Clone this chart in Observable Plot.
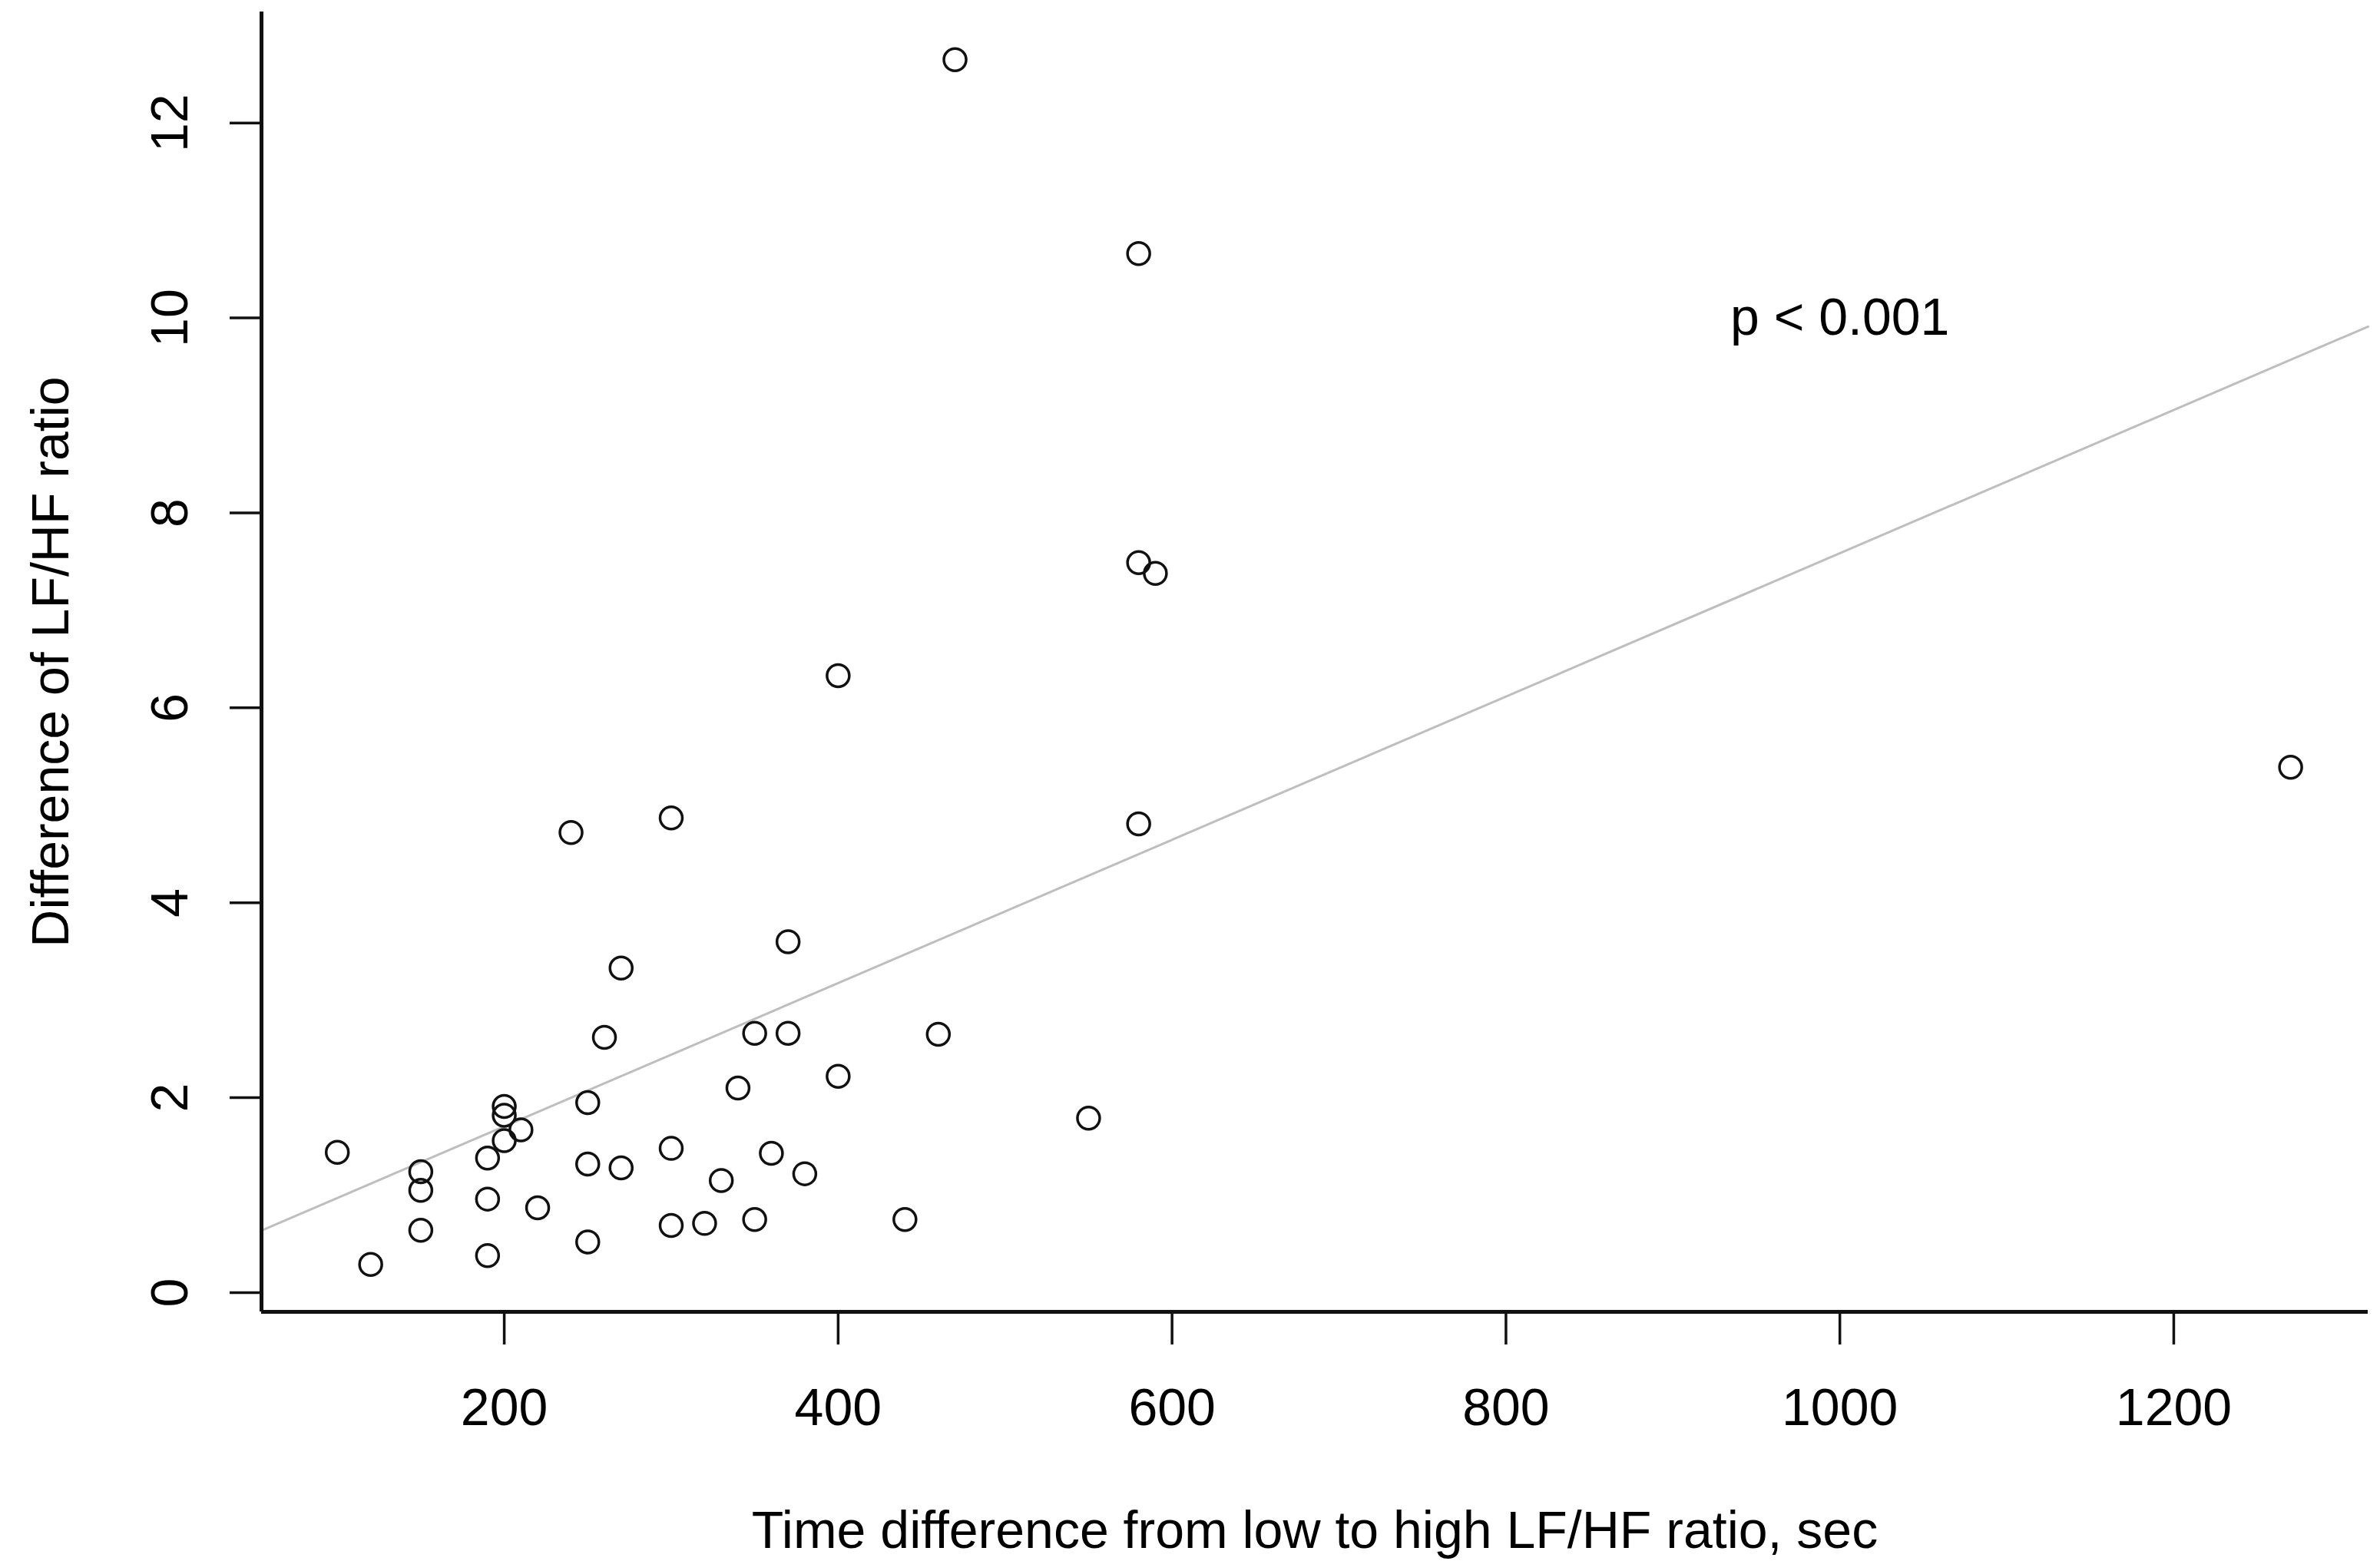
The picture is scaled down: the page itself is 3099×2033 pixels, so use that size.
<!DOCTYPE html>
<html>
<head>
<meta charset="utf-8">
<script src="https://cdn.jsdelivr.net/npm/d3@7"></script>
<script src="https://cdn.jsdelivr.net/npm/@observablehq/plot@0.6"></script>
<style>
  html, body { margin: 0; padding: 0; background: #fff; }
  #chart svg { display: block; }
</style>
</head>
<body>
<div id="chart"></div>
<script>
// Time difference from low to high LF/HF ratio (sec)
const timeDiff = [
  100, 120, 150, 150, 150, 190, 190, 190, 200, 200, 200, 210, 220,
  240, 250, 250, 250, 260, 270, 270, 300, 300, 300, 320, 330, 340,
  350, 350, 360, 370, 370, 380, 400, 400, 440, 460, 470, 550, 580,
  580, 590, 580, 1270
];
// Difference of LF/HF ratio
const lfhfDiff = [
  1.44, 0.29, 1.24, 1.05, 0.64, 1.38, 0.96, 0.38, 1.91, 1.82, 1.56, 1.67, 0.87,
  4.72, 1.95, 1.32, 0.52, 2.62, 3.33, 1.28, 4.87, 1.48, 0.69, 0.71, 1.15, 2.10,
  2.66, 0.75, 1.43, 3.60, 2.66, 1.22, 6.33, 2.22, 0.75, 2.65, 12.65, 1.79, 10.66,
  7.49, 7.38, 4.81, 5.39
];
// fitted regression line (intercept, slope)
const regIntercept = 0.236;
const regSlope = 0.00735;
// annotation
const annotX = 1000;
const annotY = 10;
const annotText = "p < 0.001";
// ticks
const xTicks = [200, 400, 600, 800, 1000, 1200];
const yTicks = [0, 2, 4, 6, 8, 10, 12];
const xDomain = [54.6, 1316.4];
const yDomain = [-0.197, 13.14];
const xLabel = "Time difference from low to high LF/HF ratio, sec";
const yLabel = "Difference of LF/HF ratio";

const points = timeDiff.map((t, i) => ({x: t, y: lfhfDiff[i]}));
const regLine = xDomain.map(x => ({x, y: regIntercept + regSlope * x}));

const FONT = "Liberation Sans, Arial, Helvetica, sans-serif";
const FS = 68;
const plain = d => String(d);

const chart = Plot.plot({
  width: 3099,
  height: 2033,
  marginLeft: 340,
  marginRight: 16,
  marginTop: 15,
  marginBottom: 325,
  style: {fontFamily: FONT, fontSize: FS + "px", background: "#fff", color: "#000"},
  x: {domain: xDomain, ticks: xTicks, label: null},
  y: {domain: yDomain, ticks: yTicks, label: null},
  marks: [
    Plot.line(regLine, {x: "x", y: "y", stroke: "#bebebe", strokeWidth: 3}),
    Plot.dot(points, {x: "x", y: "y", r: 14.5, stroke: "#111", strokeWidth: 3.5, fill: "none"}),
    Plot.text([annotText], {x: annotX, y: annotY, text: d => d, fontSize: FS, fill: "#000", textAnchor: "middle", lineAnchor: "middle"}),
    Plot.ruleY([yDomain[0]], {stroke: "#111", strokeWidth: 5}),
    Plot.ruleX([xDomain[0]], {stroke: "#111", strokeWidth: 5}),
    Plot.axisX({ticks: xTicks, tickFormat: plain, tickSize: 43, tickPadding: 56, strokeWidth: 3.5, stroke: "#111", fontSize: FS, fill: "#000", label: null}),
    Plot.axisY({ticks: yTicks, tickFormat: plain, tickSize: 41, tickPadding: 56, tickRotate: -90, strokeWidth: 3.5, stroke: "#111", fontSize: FS, fill: "#000", label: null}),
    Plot.text([xLabel], {frameAnchor: "bottom", dy: 307, text: d => d, fontSize: FS, fill: "#000", textAnchor: "middle", lineAnchor: "bottom"}),
    Plot.text([yLabel], {frameAnchor: "left", dx: -252, rotate: -90, text: d => d, fontSize: FS, fill: "#000", textAnchor: "middle", lineAnchor: "bottom"})
  ]
});
document.getElementById("chart").appendChild(chart);
</script>
</body>
</html>
